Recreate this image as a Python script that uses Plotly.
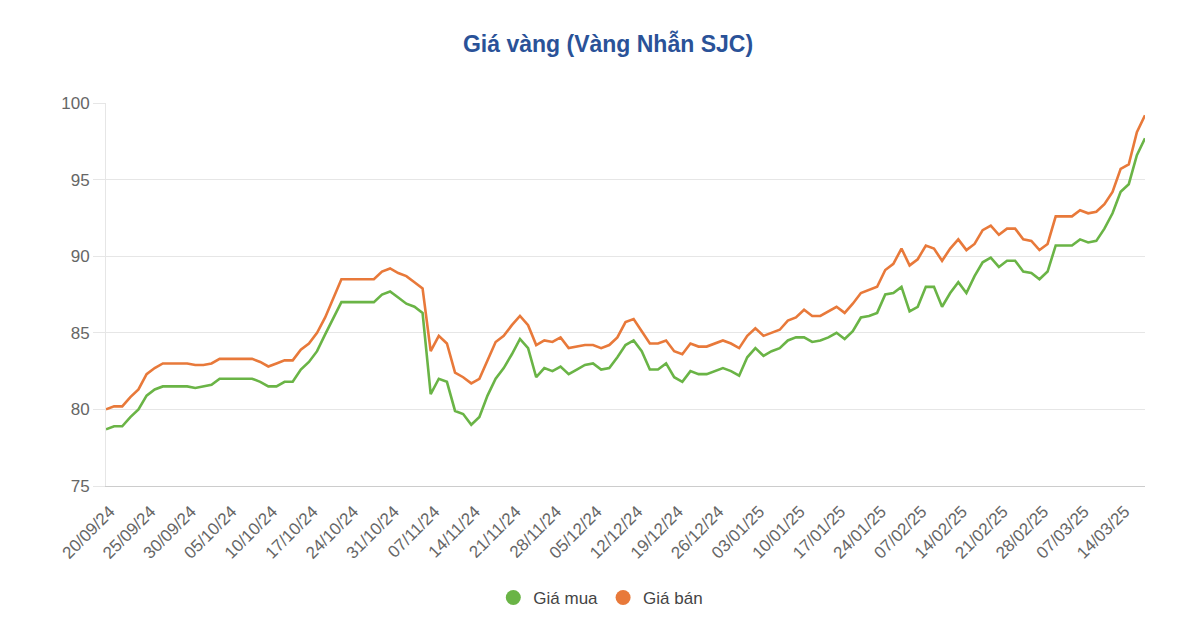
import plotly.graph_objects as go

dates = [
    "20/09/24", "21/09/24", "22/09/24", "23/09/24", "24/09/24",
    "25/09/24", "26/09/24", "27/09/24", "28/09/24", "29/09/24",
    "30/09/24", "01/10/24", "02/10/24", "03/10/24", "04/10/24",
    "05/10/24", "06/10/24", "07/10/24", "08/10/24", "09/10/24",
    "10/10/24", "11/10/24", "14/10/24", "15/10/24", "16/10/24",
    "17/10/24", "18/10/24", "21/10/24", "22/10/24", "23/10/24",
    "24/10/24", "25/10/24", "28/10/24", "29/10/24", "30/10/24",
    "31/10/24", "01/11/24", "04/11/24", "05/11/24", "06/11/24",
    "07/11/24", "08/11/24", "11/11/24", "12/11/24", "13/11/24",
    "14/11/24", "15/11/24", "18/11/24", "19/11/24", "20/11/24",
    "21/11/24", "22/11/24", "25/11/24", "26/11/24", "27/11/24",
    "28/11/24", "29/11/24", "02/12/24", "03/12/24", "04/12/24",
    "05/12/24", "06/12/24", "09/12/24", "10/12/24", "11/12/24",
    "12/12/24", "13/12/24", "16/12/24", "17/12/24", "18/12/24",
    "19/12/24", "20/12/24", "23/12/24", "24/12/24", "25/12/24",
    "26/12/24", "27/12/24", "30/12/24", "31/12/24", "02/01/25",
    "03/01/25", "06/01/25", "07/01/25", "08/01/25", "09/01/25",
    "10/01/25", "13/01/25", "14/01/25", "15/01/25", "16/01/25",
    "17/01/25", "20/01/25", "21/01/25", "22/01/25", "23/01/25",
    "24/01/25", "03/02/25", "04/02/25", "05/02/25", "06/02/25",
    "07/02/25", "10/02/25", "11/02/25", "12/02/25", "13/02/25",
    "14/02/25", "17/02/25", "18/02/25", "19/02/25", "20/02/25",
    "21/02/25", "24/02/25", "25/02/25", "26/02/25", "27/02/25",
    "28/02/25", "03/03/25", "04/03/25", "05/03/25", "06/03/25",
    "07/03/25", "10/03/25", "11/03/25", "12/03/25", "13/03/25",
    "14/03/25", "17/03/25", "18/03/25", "19/03/25",
]

gia_mua = [
    78.7, 78.9, 78.9, 79.5, 80.0, 80.9, 81.3, 81.5, 81.5, 81.5,
    81.5, 81.4, 81.5, 81.6, 82.0, 82.0, 82.0, 82.0, 82.0, 81.8,
    81.5, 81.5, 81.8, 81.8, 82.6, 83.1, 83.8, 84.9, 86.0, 87.0,
    87.0, 87.0, 87.0, 87.0, 87.5, 87.7, 87.3, 86.9, 86.7, 86.3,
    81.0, 82.0, 81.8, 79.9, 79.7, 79.0, 79.5, 80.9, 82.0, 82.7,
    83.6, 84.6, 84.0, 82.1, 82.7, 82.5, 82.8, 82.3, 82.6, 82.9,
    83.0, 82.6, 82.7, 83.4, 84.2, 84.5, 83.8, 82.6, 82.6, 83.0,
    82.1, 81.8, 82.5, 82.3, 82.3, 82.5, 82.7, 82.5, 82.2, 83.4,
    84.0, 83.5, 83.8, 84.0, 84.5, 84.7, 84.7, 84.4, 84.5, 84.7,
    85.0, 84.6, 85.1, 86.0, 86.1, 86.3, 87.5, 87.6, 88.0, 86.4,
    86.7, 88.0, 88.0, 86.7, 87.6, 88.3, 87.6, 88.7, 89.6, 89.9,
    89.3, 89.7, 89.7, 89.0, 88.9, 88.5, 89.0, 90.7, 90.7, 90.7,
    91.1, 90.9, 91.0, 91.8, 92.8, 94.2, 94.7, 96.6, 97.7,
]

gia_ban = [
    80.0, 80.2, 80.2, 80.8, 81.3, 82.3, 82.7, 83.0, 83.0, 83.0,
    83.0, 82.9, 82.9, 83.0, 83.3, 83.3, 83.3, 83.3, 83.3, 83.1,
    82.8, 83.0, 83.2, 83.2, 83.9, 84.3, 85.0, 86.0, 87.2, 88.5,
    88.5, 88.5, 88.5, 88.5, 89.0, 89.2, 88.9, 88.7, 88.3, 87.9,
    83.8, 84.8, 84.3, 82.4, 82.1, 81.7, 82.0, 83.2, 84.4, 84.8,
    85.5, 86.1, 85.5, 84.2, 84.5, 84.4, 84.7, 84.0, 84.1, 84.2,
    84.2, 84.0, 84.2, 84.7, 85.7, 85.9, 85.1, 84.3, 84.3, 84.5,
    83.8, 83.6, 84.3, 84.1, 84.1, 84.3, 84.5, 84.3, 84.0, 84.8,
    85.3, 84.8, 85.0, 85.2, 85.8, 86.0, 86.5, 86.1, 86.1, 86.4,
    86.7, 86.3, 86.9, 87.6, 87.8, 88.0, 89.1, 89.5, 90.5, 89.4,
    89.8, 90.7, 90.5, 89.7, 90.5, 91.1, 90.4, 90.8, 91.7, 92.0,
    91.4, 91.8, 91.8, 91.1, 91.0, 90.4, 90.8, 92.6, 92.6, 92.6,
    93.0, 92.8, 92.9, 93.4, 94.2, 95.7, 96.0, 98.1, 99.2,
]

tick_labels = dates[::5]
y_ticks = [75, 80, 85, 90, 95, 100]

GREEN = "#6ab446"
ORANGE = "#e8793a"
FONT = "Liberation Sans, Arial, Helvetica, sans-serif"

fig = go.Figure()
fig.add_trace(go.Scatter(x=dates, y=gia_mua, mode="lines", name="Giá mua",
                         line=dict(color=GREEN, width=2.6), showlegend=False))
fig.add_trace(go.Scatter(x=dates, y=gia_ban, mode="lines", name="Giá bán",
                         line=dict(color=ORANGE, width=2.6), showlegend=False))
# legend entries with round symbols
fig.add_trace(go.Scatter(x=[None], y=[None], mode="markers", name="Giá mua",
                         marker=dict(color=GREEN, size=15, symbol="circle")))
fig.add_trace(go.Scatter(x=[None], y=[None], mode="markers", name="Giá bán",
                         marker=dict(color=ORANGE, size=15, symbol="circle")))

fig.update_layout(
    width=1200, height=629,
    paper_bgcolor="white", plot_bgcolor="white",
    margin=dict(l=98, r=63, t=95, b=151),
    font=dict(family=FONT, color="#666666"),
    title=dict(text="<b>Giá vàng (Vàng Nhẫn SJC)</b>", x=0.5, xanchor="center",
               y=0.943, yanchor="middle",
               font=dict(size=23, color="#2a5298", family=FONT)),
    legend=dict(orientation="h", xref="container", x=0.494, xanchor="center",
                yref="container", y=0.062, yanchor="middle",
                font=dict(size=17, color="#444444"), itemwidth=30),
    showlegend=True,
)
fig.update_xaxes(
    type="category", categoryorder="array", categoryarray=dates,
    range=[0, len(dates) - 1],
    tickmode="array", tickvals=tick_labels, ticktext=tick_labels,
    tickangle=-45, tickfont=dict(size=17, color="#666666"),
    ticklabelstandoff=8, ticklabelshift=4,
    showgrid=False, showline=True, linecolor="#cccccc", linewidth=1,
    ticks="", zeroline=False,
)
fig.update_yaxes(
    range=[75, 100], tickmode="array", tickvals=y_ticks,
    tickfont=dict(size=17, color="#666666"),
    showgrid=True, gridcolor="#e6e6e6", gridwidth=1,
    showline=True, linecolor="#e6e6e6", ticks="outside", ticklen=12,
    tickcolor="#e6e6e6", zeroline=False,
)

fig.write_html("out.html")
